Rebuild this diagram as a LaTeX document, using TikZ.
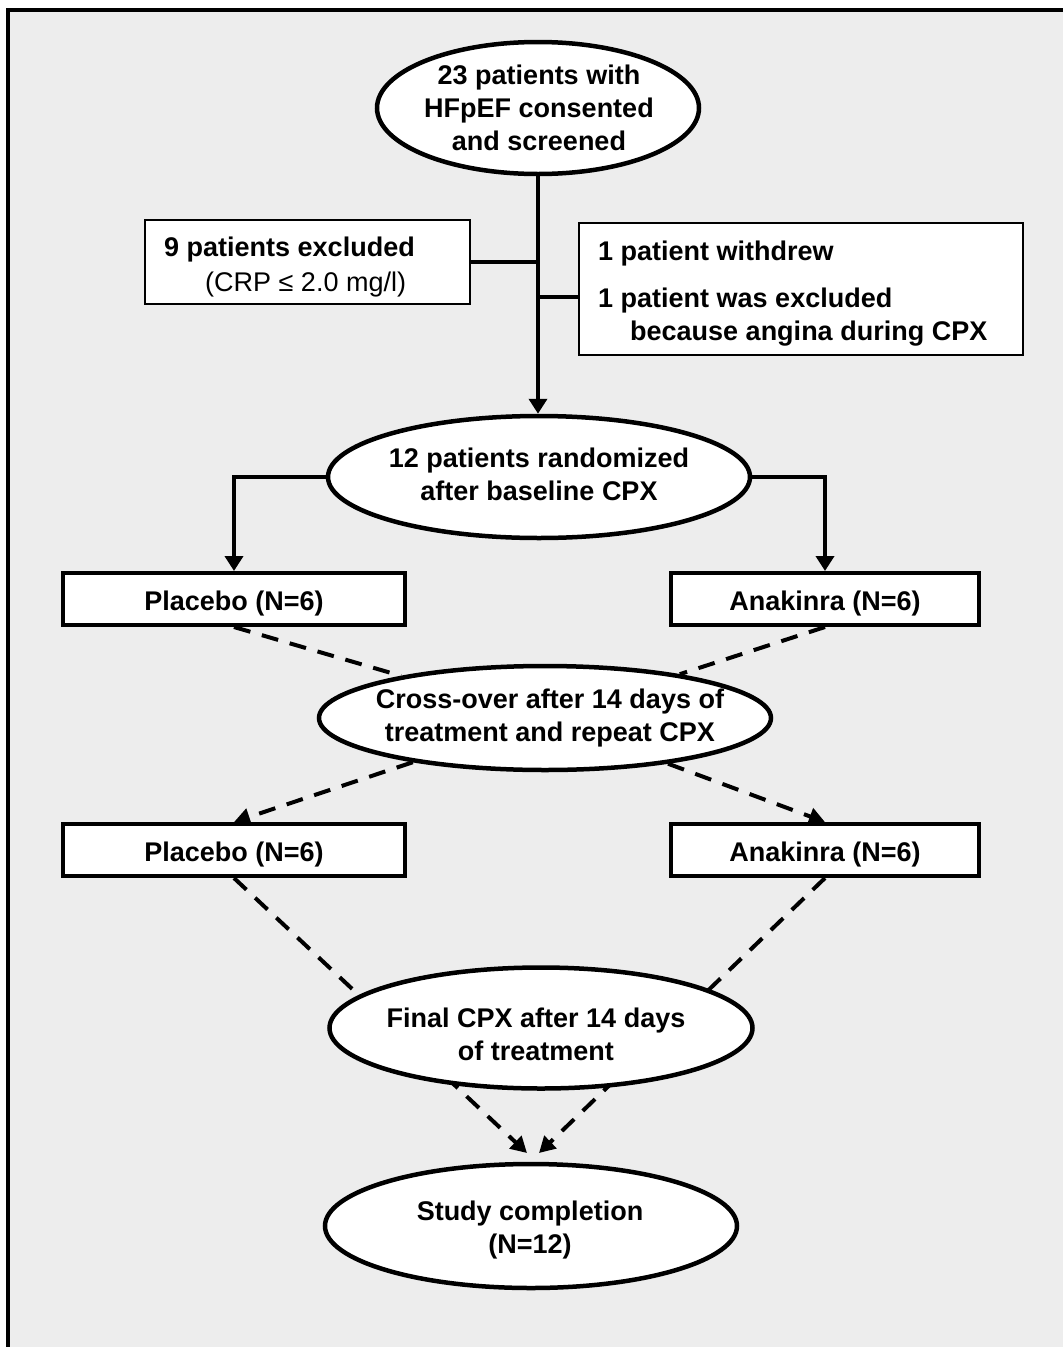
\documentclass[tikz,border=0pt]{standalone}
\usepackage{fontspec}
\setmainfont{Liberation Sans}
\usetikzlibrary{arrows.meta,shapes.geometric}
\pgfdeclarelayer{back}
\pgfdeclarelayer{edges}
\pgfsetlayers{back,edges,main}
\definecolor{panel}{HTML}{EDEDED}
\tikzset{
  oval/.style={ellipse, draw=black, fill=white, line width=4.5pt, inner sep=0pt},
  thinbox/.style={rectangle, draw=black, fill=white, line width=1.8pt, inner sep=0pt},
  armbox/.style={rectangle, draw=black, fill=white, line width=4pt, inner sep=0pt,
    minimum height=52pt, text height=22pt, text depth=0pt,
    font=\fontsize{27}{33}\selectfont\bfseries},
  boldtext/.style={inner sep=0pt, align=center, font=\fontsize{27}{33}\selectfont\bfseries},
  regtext/.style={inner sep=0pt, align=center, font=\fontsize{27}{33}\selectfont},
  flow/.style={line width=4pt, -{Triangle[length=15pt,width=18pt]}},
  link/.style={line width=4pt},
  dashlink/.style={line width=4pt, dash pattern=on 17pt off 12pt},
  dasharrow/.style={dashlink, -{Triangle[length=16pt,width=17pt]}},
}
\begin{document}
\begin{tikzpicture}[x=1pt,y=-1pt]
\useasboundingbox (0,0) rectangle (1063,1347);
\begin{pgfonlayer}{back}
  \fill[panel] (8,10) rectangle (1063,1347);
  \draw[line width=4pt] (8,1347) -- (8,10) -- (1063,10);
\end{pgfonlayer}

% top ellipse
\node[oval, minimum width=322pt, minimum height=132pt] (e1) at (538,108) {};
\node[boldtext] (e1t) at (539,108) {23 patients with\\HFpEF consented\\and screened};

% exclusion boxes
\node[thinbox, minimum width=325pt, minimum height=84pt] (excl) at (307.5,262) {};
\node[boldtext, anchor=base west] (exclt1) at (164,256) {9 patients excluded};
\node[regtext, anchor=base west] (exclt2) at (205,291) {(CRP ≤ 2.0 mg/l)};

\node[thinbox, minimum width=444pt, minimum height=132pt] (withd) at (801,289) {};
\node[boldtext, anchor=base west] (wt1) at (598,260) {1 patient withdrew};
\node[boldtext, anchor=base west] (wt2) at (598,307) {1 patient was excluded};
\node[boldtext, anchor=base west] (wt3) at (630,340) {because angina during CPX};

% randomization
\node[oval, minimum width=422pt, minimum height=122pt] (e2) at (539,477) {};
\node[boldtext] (e2t) at (539,474) {12 patients randomized\\after baseline CPX};

\node[armbox, minimum width=342pt] (p1) at (234,599) {Placebo (N=6)};
\node[armbox, minimum width=308pt] (a1) at (825,599) {Anakinra (N=6)};

% cross-over
\node[oval, minimum width=452pt, minimum height=104pt] (e3) at (545,718) {};
\node[boldtext] (e3t) at (550,718) {Cross-over after 14 days of\\treatment and repeat CPX};

\node[armbox, minimum width=342pt] (p2) at (234,850) {Placebo (N=6)};
\node[armbox, minimum width=308pt] (a2) at (825,850) {Anakinra (N=6)};

% final
\node[oval, minimum width=423pt, minimum height=121pt] (e4) at (541,1028) {};
\node[boldtext] (e4t) at (536,1034) {Final CPX after 14 days\\of treatment};

\node[oval, minimum width=412pt, minimum height=124pt] (e5) at (531,1226) {};
\node[boldtext] (e5t) at (530,1230) {Study completion\\(N=12)};

\begin{pgfonlayer}{edges}
  \coordinate (j1) at (539,263);
  \coordinate (j2) at (539,297);
  \coordinate (t1) at (527,1153);
  \coordinate (t2) at (539,1153);
  \draw[flow] (e1.south) -- (e1.south |- e2.north);
  \draw[link] (excl.east) -- (excl.east -| j1);
  \draw[link] (j2) -- (j2 -| withd.west);
  \draw[flow] (e2.west) -| (p1.north);
  \draw[flow] (e2.east) -| (a1.north);
  \draw[dashlink] (p1.south) -- (e3);
  \draw[dashlink] (a1.south) -- (e3);
  \draw[dasharrow] (e3) -- (p2.north);
  \draw[dasharrow] (e3) -- (a2.north);
  \draw[dasharrow] (p2.south) -- (t1);
  \draw[dasharrow] (a2.south) -- (t2);
\end{pgfonlayer}
\end{tikzpicture}
\end{document}
